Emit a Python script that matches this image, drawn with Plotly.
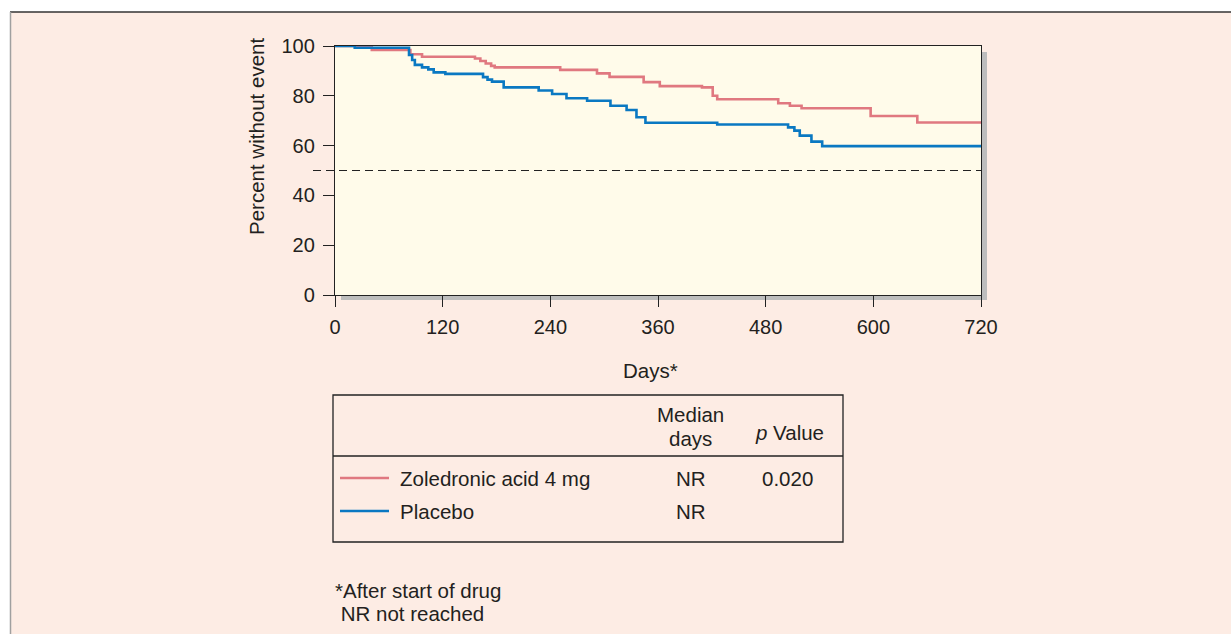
import plotly.graph_objects as go

# ---- data ----
zol_days = [0, 41, 84, 97, 156, 162, 168, 174, 178, 251, 292, 306, 344, 362, 409, 421, 426, 494, 507, 520, 597, 649, 720]
zol_pct = [100, 98.4, 96.7, 95.7, 95.0, 94.0, 93.0, 92.0, 91.4, 90.4, 89.0, 87.6, 85.5, 83.9, 83.4, 80.0, 78.6, 77.0, 76.0, 75.0, 71.9, 69.3, 69.3]

pla_days = [0, 22, 82.5, 86, 89, 97, 104, 110, 123, 165, 170, 175, 188, 227, 242, 258, 281, 307, 325, 336, 346, 426, 505, 512, 518, 531, 543, 720]
pla_pct = [100, 99.3, 96.4, 94.4, 92.4, 91.4, 90.6, 89.4, 88.8, 87.5, 86.5, 85.7, 83.4, 82.1, 80.7, 79.0, 78.0, 76.0, 74.3, 71.4, 69.2, 68.5, 67.3, 66.0, 64.0, 61.6, 59.8, 59.8]

x_ticks = [0, 120, 240, 360, 480, 600, 720]
y_ticks = [0, 20, 40, 60, 80, 100]
median_ref = 50

series_names = ["Zoledronic acid 4 mg", "Placebo"]
median_days = ["NR", "NR"]
p_values = ["0.020", ""]

RED = "#E07880"
BLUE = "#0A78C2"
INK = "#231F20"
FONT = "Liberation Sans, Arial, sans-serif"
TXT = 20.5

W, H = 1231, 634
# plot area in page pixels
PL, PR, PT, PB = 335, 981, 46, 295


def px(x):
    return (x - PL) / (PR - PL)


def py(y):
    return (PB - y) / (PB - PT)


fig = go.Figure()
fig.add_trace(go.Scatter(x=zol_days, y=zol_pct, mode="lines", line=dict(color=RED, width=2.6, shape="hv"),
                         showlegend=False, hoverinfo="skip"))
fig.add_trace(go.Scatter(x=pla_days, y=pla_pct, mode="lines", line=dict(color=BLUE, width=2.6, shape="hv"),
                         showlegend=False, hoverinfo="skip"))

shapes = []
# white strips outside the outer frame
shapes.append(dict(type="rect", xref="paper", yref="paper", x0=px(-20), x1=px(W + 20), y0=py(-20), y1=py(12),
                   fillcolor="white", line_width=0, layer="below"))
shapes.append(dict(type="rect", xref="paper", yref="paper", x0=px(-20), x1=px(10), y0=py(-20), y1=py(H + 20),
                   fillcolor="white", line_width=0, layer="below"))
# outer frame lines
shapes.append(dict(type="line", xref="paper", yref="paper", x0=px(10), x1=px(W + 20), y0=py(12), y1=py(12),
                   line=dict(color="#333333", width=1.5)))
shapes.append(dict(type="line", xref="paper", yref="paper", x0=px(10.5), x1=px(10.5), y0=py(12), y1=py(H + 20),
                   line=dict(color="#A0A0A0", width=1.5)))
# drop shadow of plot frame
shapes.append(dict(type="rect", xref="paper", yref="paper", x0=px(982), x1=px(987), y0=py(52), y1=py(300),
                   fillcolor="#BDBDBD", line_width=0, layer="below"))
shapes.append(dict(type="rect", xref="paper", yref="paper", x0=px(341), x1=px(987), y0=py(296), y1=py(300),
                   fillcolor="#BDBDBD", line_width=0, layer="below"))
# dashed 50% line
shapes.append(dict(type="line", xref="paper", yref="y", x0=px(313), x1=1, y0=median_ref, y1=median_ref,
                   line=dict(color="#222222", width=1, dash="8px,5px")))
# legend table box
shapes.append(dict(type="rect", xref="paper", yref="paper", x0=px(333), x1=px(843), y0=py(395), y1=py(542),
                   line=dict(color="#222222", width=1.3)))
shapes.append(dict(type="line", xref="paper", yref="paper", x0=px(333), x1=px(843), y0=py(456), y1=py(456),
                   line=dict(color="#222222", width=1.3)))
# legend line samples
for yy, col in [(478, RED), (511, BLUE)]:
    shapes.append(dict(type="line", xref="paper", yref="paper", x0=px(340), x1=px(389), y0=py(yy), y1=py(yy),
                       line=dict(color=col, width=2.4)))

ann = []


def text(x, y, s, xanchor="left", size=TXT, angle=0):
    ann.append(dict(x=px(x), y=py(y), xref="paper", yref="paper", text=s, showarrow=False,
                    xanchor=xanchor, yanchor="middle", textangle=angle,
                    font=dict(family=FONT, size=size, color=INK)))


text(650, 370, "Days*", "center")
text(256, 137, "Percent without event", "center", angle=-90)
text(690, 414, "Median", "center")
text(690, 438, "days", "center")
text(789, 432, "<i>p</i> Value", "center")
rows_y = [478, 511]
for i, name in enumerate(series_names):
    text(398, rows_y[i], name, "left")
    text(691, rows_y[i], median_days[i], "center")
    if p_values[i]:
        text(787, rows_y[i], p_values[i], "center")
text(333, 591, "*After start of drug", "left")
text(333, 613, " NR not reached", "left")

axis_common = dict(showline=True, linecolor="#222222", linewidth=1.3, mirror=True, ticks="outside",
                   ticklen=11, tickwidth=1.3, tickcolor="#222222", showgrid=False, zeroline=False,
                   tickfont=dict(family=FONT, size=20, color=INK))

fig.update_layout(
    width=W, height=H,
    margin=dict(l=PL, r=W - PR, t=PT, b=H - PB, pad=0),
    paper_bgcolor="#FDECE4",
    plot_bgcolor="#FFFBEA",
    xaxis=dict(range=[0, 720], tickvals=x_ticks, ticklabelstandoff=3, **axis_common),
    yaxis=dict(range=[0, 100], tickvals=y_ticks, ticklabelstandoff=4, **axis_common),
    shapes=shapes,
    annotations=ann,
    showlegend=False,
)

fig.write_html("out.html", config={"displayModeBar": False},
               post_script="document.body.style.margin='0';document.body.style.overflow='hidden';")
